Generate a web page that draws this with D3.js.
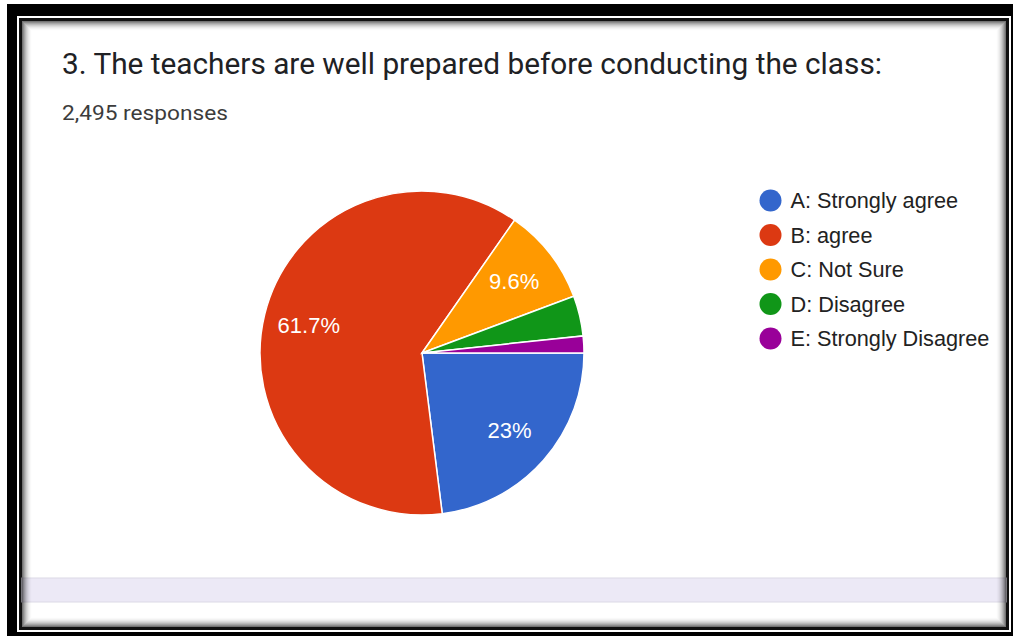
<!DOCTYPE html>
<html>
<head>
<meta charset="utf-8">
<script src="https://cdn.jsdelivr.net/npm/d3@7"></script>
<style>
  body { margin: 0; background: #fff; }
  svg { display: block; }
</style>
</head>
<body>
<div id="d3-container"></div>
<script>
/* DATA */
const titleText = "3. The teachers are well prepared before conducting the class:";
const responseText = "2,495 responses";
const categories = ["A: Strongly agree", "B: agree", "C: Not Sure", "D: Disagree", "E: Strongly Disagree"];
const responses = [574, 1539, 240, 100, 42];
const colors = ["#3366cc", "#dc3912", "#ff9900", "#109618", "#990099"];

/* CONSTANTS */
const width = 1013,
  height = 636,
  cx = 422,
  cy = 353,
  radius = 162;

const svg = d3.select("#d3-container")
  .append("svg")
  .attr("width", width)
  .attr("height", height);

// outer frame
svg.append("rect")
  .attr("x", 7).attr("y", 4)
  .attr("width", width).attr("height", height)
  .attr("fill", "#000");

svg.append("rect")
  .attr("x", 17).attr("y", 16)
  .attr("width", 994).attr("height", 616)
  .attr("fill", "#fff");

// inner panel with dark edge
svg.append("rect")
  .attr("x", 19).attr("y", 18)
  .attr("width", 990).attr("height", 612)
  .attr("fill", "#111");

svg.append("rect")
  .attr("x", 22).attr("y", 21)
  .attr("width", 984).attr("height", 606)
  .attr("fill", "#fff");

// lavender strip
svg.append("rect")
  .attr("x", 22).attr("y", 578)
  .attr("width", 984).attr("height", 24)
  .attr("fill", "#ece9f6")
  .attr("stroke", "#dcd9e6")
  .attr("stroke-width", 1);

// inner shadow
d3.range(10).forEach(i => {
  svg.append("rect")
    .attr("x", 22.5 + i).attr("y", 21.5 + i)
    .attr("width", 983 - 2 * i).attr("height", 605 - 2 * i)
    .attr("fill", "none")
    .attr("stroke", "#000")
    .attr("stroke-opacity", 0.55 * Math.pow(1 - i / 10, 2));
});

// title
svg.append("text")
  .attr("x", 62).attr("y", 74)
  .attr("font-family", "Roboto")
  .attr("font-size", 29.5)
  .attr("textLength", 820)
  .attr("lengthAdjust", "spacingAndGlyphs")
  .attr("fill", "#202124")
  .text(titleText);

svg.append("text")
  .attr("x", 62).attr("y", 120)
  .attr("font-family", "Roboto")
  .attr("font-size", 21)
  .attr("textLength", 166)
  .attr("lengthAdjust", "spacingAndGlyphs")
  .attr("fill", "#3c3c3c")
  .text(responseText);

/* PIE */
const total = d3.sum(responses);
const pie = d3.pie()
  .sort(null)
  .startAngle(Math.PI / 2)
  .endAngle(Math.PI / 2 + 2 * Math.PI);

const arcs = pie(responses);
const arc = d3.arc().innerRadius(0).outerRadius(radius);
const labelArc = d3.arc().innerRadius(radius * 0.72).outerRadius(radius * 0.72);

const g = svg.append("g")
  .attr("transform", `translate(${cx}, ${cy})`);

g.selectAll("path")
  .data(arcs)
  .join("path")
  .attr("d", arc)
  .attr("fill", (d, i) => colors[i])
  .attr("stroke", "#fff")
  .attr("stroke-width", 1.5);

const fmt = v => d3.format(".1f")(v).replace(/\.0$/, "") + "%";

g.selectAll("text")
  .data(arcs.filter(d => d.data / total > 0.05))
  .join("text")
  .attr("transform", d => `translate(${labelArc.centroid(d)})`)
  .attr("text-anchor", "middle")
  .attr("dy", "0.36em")
  .attr("font-family", "Arial, Liberation Sans")
  .attr("font-size", 22)
  .attr("fill", "#fff")
  .text(d => fmt(d.data / total * 100));

/* LEGEND */
const legendY = d3.scalePoint()
  .domain(categories)
  .range([200.5, 338.5]);

const legend = svg.append("g")
  .selectAll("g")
  .data(categories)
  .join("g")
  .attr("transform", d => `translate(770.5, ${legendY(d)})`);

legend.append("circle")
  .attr("r", 11)
  .attr("fill", (d, i) => colors[i]);

legend.append("text")
  .attr("x", 20)
  .attr("dy", "0.36em")
  .attr("font-family", "Arial, Liberation Sans")
  .attr("font-size", 21.7)
  .attr("fill", "#222")
  .text(d => d);
</script>
</body>
</html>
